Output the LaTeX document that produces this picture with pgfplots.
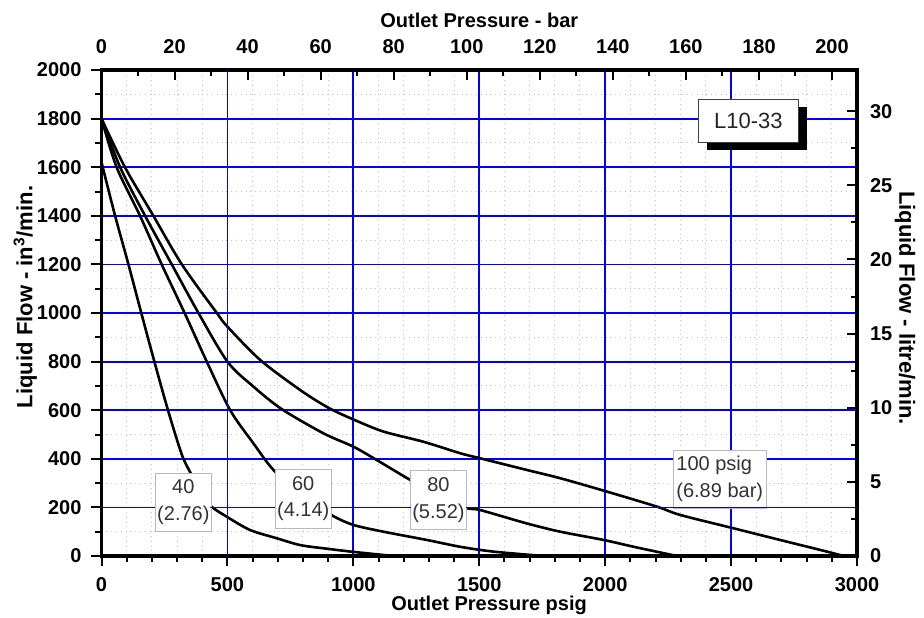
\documentclass[border=0pt]{standalone}
\usepackage{pgfplots}
\pgfplotsset{compat=1.18}
\usepackage{fontspec}
\setmainfont{Liberation Sans}

% 1 px of the reference = 0.5pt
\pgfplotsset{
  common/.style={
    at={(0,0)}, anchor=south west,
    scale only axis, width=377.75pt, height=243pt,
    axis line style={line width=1.8pt},
    tick label style={font=\bfseries\fontsize{10}{12}\selectfont},
    label style={font=\bfseries\fontsize{10}{12}\selectfont},
    /pgf/number format/assume math mode=true,
    /pgf/number format/1000 sep={},
  },
  psig/.style={
    xmin=0, xmax=3000, ymin=0, ymax=2000,
    xtick={0,500,...,3000}, minor x tick num=4,
    ytick={0,200,...,2000}, minor y tick num=1,
  },
  bare/.style={
    major tick length=0pt, minor tick length=0pt,
    xticklabels={}, yticklabels={},
  },
  ticked/.style={
    every tick/.append style={black, line width=1pt},
    major tick length=5pt, minor tick length=3pt,
  },
  gridline/.style={draw=blue, line width=0.9pt, forget plot},
}
\tikzset{
  lbl/.style={draw=gray!55, fill=white, text=black!80, align=center,
    font=\fontsize{10}{13.3}\selectfont, inner sep=1pt},
}

\begin{document}
\begin{tikzpicture}
\path[use as bounding box] (-50.75pt,-30.5pt) rectangle (411.25pt,278pt);

% dotted minor grid
\begin{axis}[common, psig, bare,
  xminorgrids, yminorgrids,
  minor grid style={draw=gray!50, dotted, line width=0.5pt},
]
\end{axis}

% psig / in^3 per min: bottom and left
\begin{axis}[
  common, psig, ticked,
  xtick pos=left, ytick pos=left,
  tick align=outside,
  xticklabel style={yshift=-2pt},
  yticklabel style={xshift=-1.5pt},
  xlabel={Outlet Pressure psig},
  ylabel={Liquid Flow - in\textsuperscript{3}/min.},
  xlabel style={at={(axis description cs:0.513,-0.101)}, anchor=center},
  ylabel style={at={(axis description cs:-0.101,0.533)}, anchor=center,
    font=\bfseries\fontsize{11}{13}\selectfont},
]
\end{axis}

% blue major grid and data
\begin{axis}[common, psig, bare]
\pgfplotsinvokeforeach{0,500,1000,1500,2000,2500}{
  \addplot[gridline] coordinates {(#1,0) (#1,2000)};
}
\pgfplotsinvokeforeach{0,200,400,600,800,1000,1200,1400,1600,1800}{
  \addplot[gridline] coordinates {(0,#1) (3000,#1)};
}
% 40 psig (2.76 bar)
\addplot[draw=black, line width=1.3pt, smooth] coordinates {
  (0,1620) (54,1400) (107,1200) (158,1000) (210,800) (264,600) (318,420)
  (352,345) (395,265) (434,206) (497,162) (590,107) (696,73) (789,45)
  (895,30) (1000,17) (1160,0)};
% 60 psig (4.14 bar)
\addplot[draw=black, line width=1.3pt, smooth] coordinates {
  (0,1800) (60,1600) (153,1400) (239,1200) (330,1000) (418,800) (511,600)
  (603,464) (683,354) (800,245) (912,169) (1000,128) (1120,100) (1292,66)
  (1424,38) (1557,18) (1755,0)};
% 80 psig (5.52 bar)
\addplot[draw=black, line width=1.3pt, smooth] coordinates {
  (0,1800) (74,1600) (173,1400) (279,1200) (385,1000) (500,800) (600,700)
  (715,605) (881,505) (1000,450) (1093,395) (1226,313) (1340,250) (1446,198)
  (1504,189) (1689,134) (1822,100) (1994,66) (2113,38) (2285,0)};
% 100 psig (6.89 bar)
\addplot[draw=black, line width=1.3pt, smooth] coordinates {
  (0,1800) (93,1600) (206,1400) (319,1200) (458,1000) (500,944) (630,807)
  (789,683) (901,610) (1000,562) (1120,512) (1279,470) (1424,423) (1504,402)
  (1689,354) (1822,320) (2007,265) (2206,203) (2298,169) (2510,114)
  (2749,52) (2881,18) (2947,0)};

\node[lbl, minimum width=27.5pt, minimum height=29pt] at (axis cs:325,222) {40\\(2.76)};
\node[lbl, minimum width=28pt, minimum height=29.5pt] at (axis cs:801,237) {60\\(4.14)};
\node[lbl, minimum width=27.7pt, minimum height=29.3pt] at (axis cs:1338,230) {80\\(5.52)};
\node[lbl, align=left, minimum width=46.5pt, minimum height=29pt] at (axis cs:2455,317) {100 psig\\(6.89 bar)};

\node[fill=black, minimum width=50pt, minimum height=21.5pt, inner sep=0pt]
  at ([xshift=4.25pt,yshift=-4pt]axis cs:2569,1792) {};
\node[draw=black!75, fill=white, minimum width=50pt, minimum height=21.5pt, inner sep=0pt,
  font=\fontsize{11}{13}\selectfont, text=black!85] at (axis cs:2569,1792) {L10-33};
\end{axis}

% bar / litre per min: top and right
\begin{axis}[
  common, ticked,
  xmin=0, xmax=206.843, ymin=0, ymax=32.774,
  xtick={0,20,...,200}, minor x tick num=1,
  ytick={0,5,...,30}, minor y tick num=1,
  xtick pos=right, xticklabel pos=right,
  ytick pos=right, yticklabel pos=right,
  tick align=inside,
  xticklabel style={yshift=4.5pt},
  yticklabel style={xshift=3pt},
  xlabel={Outlet Pressure - bar},
  ylabel={Liquid Flow - litre/min.},
  xlabel style={at={(axis description cs:0.5,1.103)}, anchor=center},
  ylabel style={at={(axis description cs:1.0635,0.51)}, anchor=center, rotate=180,
    font=\bfseries\fontsize{11}{13}\selectfont},
]
\end{axis}

% blue overlay for the 500 psig and 200 in^3/min lines, between the label boxes
\begin{axis}[common, hide axis,
  xmin=0, xmax=3000, ymin=0, ymax=2000,
  xtick=\empty, ytick=\empty]
\addplot[gridline] coordinates {(500,0) (500,2000)};
\addplot[gridline] coordinates {(0,200) (213,200)};
\addplot[gridline] coordinates {(432,200) (689,200)};
\addplot[gridline] coordinates {(912,200) (1228,200)};
\addplot[gridline] coordinates {(1448,200) (3000,200)};
\end{axis}
\end{tikzpicture}
\end{document}
